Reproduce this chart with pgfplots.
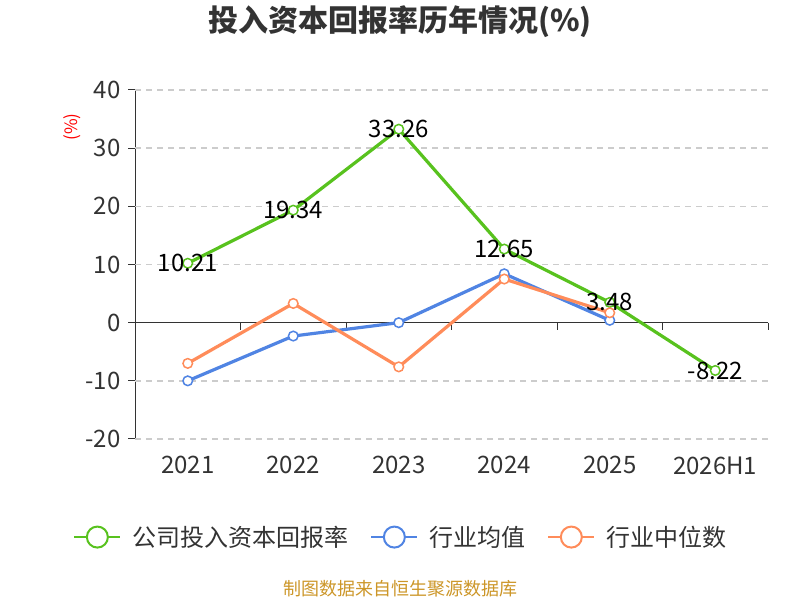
\documentclass[border=0pt]{standalone}
\usepackage{fontspec}
\setmainfont{Noto Sans CJK SC}
\usepackage{pgfplots}
\pgfplotsset{compat=1.18}
\definecolor{cgreen}{RGB}{88,194,30}
\definecolor{cblue}{RGB}{80,132,227}
\definecolor{corange}{RGB}{255,140,90}
\definecolor{ctext}{RGB}{51,51,51}
\definecolor{cgrid}{RGB}{204,204,204}
\definecolor{cfoot}{RGB}{204,150,40}
\begin{document}
\begin{tikzpicture}[x=1bp,y=1bp]
\useasboundingbox (0,0) rectangle (800,600);
\begin{axis}[
  at={(135bp,161bp)}, anchor=south west,
  width=633bp, height=349bp, scale only axis,
  xmin=-0.5, xmax=5.5, ymin=-20, ymax=40,
  axis y line*=left, axis x line*=bottom,
  x axis line style={draw=none},
  y axis line style={draw=ctext, line width=1bp, -},
  xtick={0,1,2,3,4,5},
  xticklabels={2021,2022,2023,2024,2025,2026H1},
  ytick={-20,-10,0,10,20,30,40},
  yticklabels={-20,-10,0,10,20,30,40},
  major x tick style={draw=none},
  major y tick style={draw=ctext, line width=1bp},
  tick align=outside,
  major tick length=7bp,
  xticklabel style={font=\fontsize{24bp}{28bp}\selectfont, text=ctext, yshift=-7bp},
  yticklabel style={font=\fontsize{24bp}{28bp}\selectfont, text=ctext, xshift=-4bp},
  ylabel={(\%)},
  ylabel style={at={(rel axis cs:-0.0995,0.894)}, anchor=center, font=\fontsize{17bp}{20bp}\selectfont, text=red},
  title={\bfseries 投入资本回报率历年情况(\%)},
  title style={at={(rel axis cs:0.4186,1.178)}, anchor=center, font=\fontsize{30bp}{35bp}\selectfont, text=ctext},
  clip=false,
  legend columns=3,
  legend style={at={(rel axis cs:0.42,-0.281)}, anchor=center, draw=none, fill=none,
    font=\fontsize{24bp}{28bp}\selectfont, text=ctext,
    /tikz/every even column/.style={column sep=20bp},
    /tikz/every odd column/.style={column sep=9bp}},
  legend image code/.code={
    \draw[#1, mark=none, line width=2bp] (0bp,0bp) -- (46bp,0bp);
    \draw[#1, mark=none, line width=2bp, fill=white] (23bp,0bp) circle (10.5bp);
  },
  every axis plot/.append style={line width=3.2bp, mark=*, mark size=4.8bp},
]
% grid lines
\pgfplotsinvokeforeach{-20,-10,10,20,30,40}{
  \draw[cgrid, line width=1.5bp, dash pattern=on 6bp off 5bp] (axis cs:-0.5,#1) -- (axis cs:5.5,#1);
}
\draw[ctext, line width=1bp] (axis cs:-0.5,0) -- (axis cs:5.5,0);
\pgfplotsinvokeforeach{0.5,1.5,2.5,3.5,4.5,5.5}{
  \draw[ctext, line width=1bp] (axis cs:#1,0) -- ++(0bp,-7bp);
}
\addplot[color=cgreen, mark options={fill=white, draw=cgreen, line width=1.5bp},
  point meta=explicit symbolic, nodes near coords,
  nodes near coords style={anchor=center, font=\fontsize{24bp}{28bp}\selectfont, text=black}]
  coordinates {(0,10.21) [10.21] (1,19.34) [19.34] (2,33.26) [33.26] (3,12.65) [12.65] (4,3.48) [3.48] (5,-8.22) [-8.22]};
\addlegendentry{公司投入资本回报率}
\addplot[color=cblue, mark options={fill=white, draw=cblue, line width=1.5bp}]
  coordinates {(0,-10.0) (1,-2.3) (2,0.0) (3,8.4) (4,0.4)};
\addlegendentry{行业均值}
\addplot[color=corange, mark options={fill=white, draw=corange, line width=1.5bp}]
  coordinates {(0,-7.0) (1,3.3) (2,-7.6) (3,7.5) (4,1.7)};
\addlegendentry{行业中位数}
\end{axis}
\node[anchor=center, text=cfoot, font=\fontsize{18bp}{21bp}\selectfont] at (400,11) {制图数据来自恒生聚源数据库};
\end{tikzpicture}
\end{document}
